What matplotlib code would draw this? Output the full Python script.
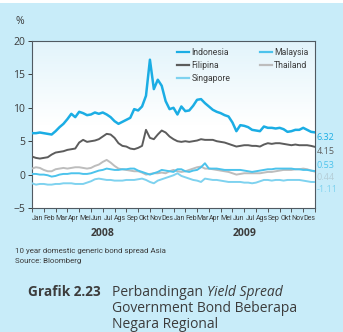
import numpy as np
import matplotlib
matplotlib.use("Agg")
import matplotlib.pyplot as plt
import matplotlib.transforms as mtransforms
from matplotlib.lines import Line2D
from matplotlib import font_manager
from matplotlib.colors import LinearSegmentedColormap

# ---------------- data (values every 1/3 month, Jan 2008 .. Dec 2009) ----------------
months = ['Jan', 'Feb', 'Mar', 'Apr', 'Mei', 'Jun', 'Jul', 'Ags', 'Sep', 'Okt', 'Nov', 'Des']
years = ['2008', '2009']

indonesia = [6.2, 6.2, 6.3, 6.2, 6.1, 6.0, 6.5, 7.1, 7.6, 8.3, 9.1, 8.6, 9.4, 9.2, 8.9, 9.0,
             9.3, 9.1, 9.3, 9.0, 8.6, 8.0, 7.6, 7.9, 8.2, 8.5, 9.8, 9.6, 10.2, 11.8, 17.2, 12.8,
             14.2, 13.3, 11.0, 9.8, 10.0, 9.0, 10.2, 9.5, 9.6, 10.3, 11.2, 11.3, 10.7, 10.2, 9.7,
             9.4, 9.2, 8.9, 8.7, 7.8, 6.5, 7.4, 7.3, 7.1, 6.7, 6.6, 6.5, 7.2, 7.0, 7.0, 6.9, 7.0,
             6.8, 6.4, 6.5, 6.7, 6.7, 7.0, 6.7, 6.4, 6.32]
filipina = [2.7, 2.5, 2.4, 2.5, 2.6, 3.0, 3.3, 3.4, 3.5, 3.7, 3.8, 3.9, 4.8, 5.2, 4.9, 5.0,
            5.1, 5.3, 5.7, 6.1, 6.0, 5.5, 4.7, 4.3, 4.2, 3.9, 3.8, 4.0, 4.3, 6.7, 5.5, 5.3,
            6.0, 6.6, 6.3, 5.7, 5.3, 5.0, 4.9, 5.0, 4.9, 5.0, 5.1, 5.3, 5.2, 5.2, 5.2, 5.0,
            4.9, 4.8, 4.6, 4.4, 4.2, 4.3, 4.4, 4.4, 4.3, 4.3, 4.2, 4.5, 4.7, 4.6, 4.7, 4.7,
            4.6, 4.5, 4.4, 4.5, 4.4, 4.4, 4.4, 4.3, 4.15]
thailand = [0.9, 1.1, 1.0, 0.7, 0.5, 0.5, 0.8, 0.9, 1.0, 0.9, 1.0, 1.1, 1.1, 1.0, 0.9, 1.0,
            1.3, 1.5, 1.9, 2.2, 1.8, 1.3, 0.9, 0.8, 0.7, 0.6, 0.5, 0.5, 0.3, 0.0, 0.1, 0.2,
            0.2, 0.3, 0.2, 0.5, 0.7, 0.5, 0.4, 0.5, 0.7, 0.9, 1.1, 1.2, 0.9, 0.9, 0.8, 0.7,
            0.6, 0.5, 0.4, 0.2, 0.0, 0.1, 0.2, 0.2, 0.2, 0.2, 0.2, 0.3, 0.4, 0.4, 0.5, 0.6,
            0.7, 0.7, 0.7, 0.8, 0.8, 0.9, 0.8, 0.6, 0.44]
malaysia = [0.1, 0.1, 0.0, 0.0, -0.1, -0.3, -0.2, 0.0, 0.1, 0.1, 0.2, 0.2, 0.2, 0.1, 0.1, 0.2,
            0.4, 0.6, 0.7, 0.9, 0.8, 0.7, 0.7, 0.8, 0.8, 0.9, 0.9, 0.6, 0.4, 0.2, 0.0, 0.2,
            0.4, 0.7, 0.6, 0.5, 0.4, 0.8, 0.8, 0.5, 0.4, 0.6, 0.7, 1.1, 1.7, 0.9, 0.9, 0.9,
            0.8, 0.7, 0.7, 0.7, 0.7, 0.7, 0.6, 0.5, 0.4, 0.5, 0.6, 0.7, 0.8, 0.8, 0.9, 0.9,
            0.9, 0.9, 0.9, 0.8, 0.8, 0.7, 0.7, 0.6, 0.53]
singapore = [-1.3, -1.5, -1.4, -1.4, -1.5, -1.5, -1.4, -1.4, -1.3, -1.3, -1.3, -1.4, -1.4, -1.4,
             -1.2, -1.0, -0.7, -0.6, -0.7, -0.8, -0.8, -0.9, -0.9, -0.9, -0.8, -0.8, -0.8, -0.7,
             -0.6, -0.8, -1.1, -1.3, -0.9, -0.7, -0.5, -0.3, -0.1, 0.2, -0.2, -0.4, -0.6, -0.8,
             -0.9, -1.1, -0.6, -0.7, -0.8, -0.8, -0.9, -1.0, -1.1, -1.1, -1.1, -1.1, -1.2, -1.2,
             -1.3, -1.2, -1.0, -0.8, -0.8, -0.9, -0.8, -0.8, -0.9, -0.8, -0.8, -0.8, -0.8, -0.9,
             -1.0, -1.1, -1.11]

end_labels = ['6.32', '4.15', '0.53', '0.44', '-1.11']
end_label_pos = [5.6, 3.5, 1.4, -0.4, -2.2]

# ---------------- styling ----------------
BG = '#c8ecf9'
TXT = '#3c3c3c'
c_indo = '#1badE4'
c_fil = '#5c5c5c'
c_tha = '#bdbdbd'
c_mal = '#4cc3ec'
c_sin = '#7ed2ef'

plt.rcParams['font.family'] = ['Open Sans', 'DejaVu Sans']

_fonts = font_manager.fontManager.ttflist
_names = {f.name for f in _fonts}
month_kw = dict(family=['Roboto', 'DejaVu Sans'], fontsize=5.0)
if 'Liberation Sans Narrow' in _names:
    month_kw = dict(family=['Liberation Sans Narrow', 'DejaVu Sans'], fontsize=5.6)

fig = plt.figure(figsize=(3.43, 3.32), dpi=100)
fig.patch.set_facecolor(BG)
fig.add_artist(plt.Rectangle((0, 1 - 3 / 332), 1, 3 / 332, transform=fig.transFigure,
                             facecolor='white', edgecolor='none'))

ax = fig.add_axes([32 / 343, 1 - 208 / 332, (315 - 32) / 343, (208 - 41) / 332])

grad = np.linspace(0, 1, 256).reshape(-1, 1)
cmap = LinearSegmentedColormap.from_list('g', ['#ffffff', '#ffffff', '#e2f4fb'])
ax.imshow(grad, extent=[0, 1, 0, 1], transform=ax.transAxes, cmap=cmap,
          aspect='auto', origin='lower', zorder=0)

series = [('Indonesia', indonesia, c_indo, 1.8),
          ('Filipina', filipina, c_fil, 1.4),
          ('Singapore', singapore, c_sin, 1.4),
          ('Malaysia', malaysia, c_mal, 1.4),
          ('Thailand', thailand, c_tha, 1.4)]
draw_order = ['Thailand', 'Malaysia', 'Singapore', 'Filipina', 'Indonesia']
sdict = {s[0]: s for s in series}
for name in draw_order:
    _, vals, col, lw = sdict[name]
    x = np.linspace(0, 24, len(vals))
    ax.plot(x, vals, color=col, lw=lw, zorder=3, solid_joinstyle='round')

ax.set_xlim(0, 24)
ax.set_ylim(-5, 20)
ax.set_yticks([-5, 0, 5, 10, 15, 20])
ax.tick_params(axis='y', labelsize=7.5, colors=TXT, length=3, width=0.7, pad=2)
ax.set_xticks(np.arange(0, 25, 1))
ax.set_xticklabels([])
ax.tick_params(axis='x', length=3, width=0.7, colors='#555555')
for sp in ax.spines.values():
    sp.set_color('#505a62')
    sp.set_linewidth(0.8)

trans = mtransforms.blended_transform_factory(ax.transData, ax.transAxes)
for i in range(24):
    ax.text(i + 0.5, -10 / 167, months[i % 12], transform=trans, ha='center', va='center',
            color=TXT, **month_kw)
for j, yr in enumerate(years):
    ax.text(12 * j + 6, -25 / 167, yr, transform=trans, ha='center', va='center',
            fontsize=7.5, fontweight='bold', color=TXT)

end_cols = [c_indo, c_fil, c_mal, '#b5cdd6', c_sin]
for lab, yv, col in zip(end_labels, end_label_pos, end_cols):
    ax.text(24.15, yv, lab, ha='left', va='center', fontsize=6.5, color=col, clip_on=False)

handles = [Line2D([], [], color=sdict[n][2], lw=1.6) for n in
           ['Indonesia', 'Filipina', 'Singapore', 'Malaysia', 'Thailand']]
labels = ['Indonesia', 'Filipina', 'Singapore', 'Malaysia', 'Thailand']
leg = ax.legend(handles, labels, ncol=2, loc='upper right', bbox_to_anchor=(1.0, 1.0),
                frameon=False, handlelength=1.4, handletextpad=0.25,
                columnspacing=3.4, labelspacing=0.45, borderaxespad=0.4,
                prop={'family': ['Roboto', 'DejaVu Sans'], 'size': 6.2})
for t in leg.get_texts():
    t.set_color(TXT)

note_font = ['Roboto', 'DejaVu Sans']
fig.text(15 / 343, 1 - 21 / 332, '%', fontsize=7.5, color=TXT, ha='left', va='center')
fig.text(15 / 343, 1 - 251 / 332, '10 year domestic generic bond spread Asia', fontsize=5.7,
         color=TXT, ha='left', va='center', family=note_font)
fig.text(15 / 343, 1 - 261 / 332, 'Source: Bloomberg', fontsize=5.7, color=TXT,
         ha='left', va='center', family=note_font)

fig.text(28 / 343, 1 - 292 / 332, 'Grafik 2.23', fontsize=9.8, fontweight='bold',
         color=TXT, ha='left', va='center')
t1 = fig.text(112 / 343, 1 - 292 / 332, 'Perbandingan ', fontsize=10,
              color=TXT, ha='left', va='center')
renderer = fig.canvas.get_renderer()
bb = t1.get_window_extent(renderer=renderer)
fig.text(bb.x1 / fig.bbox.width, 1 - 292 / 332, 'Yield Spread', fontsize=10,
         fontstyle='italic', color=TXT, ha='left', va='center')
fig.text(112 / 343, 1 - 308.5 / 332, 'Government Bond Beberapa', fontsize=10,
         color=TXT, ha='left', va='center')
fig.text(112 / 343, 1 - 324.5 / 332, 'Negara Regional', fontsize=10,
         color=TXT, ha='left', va='center')

fig.savefig('out.png', dpi=100, facecolor=BG)
